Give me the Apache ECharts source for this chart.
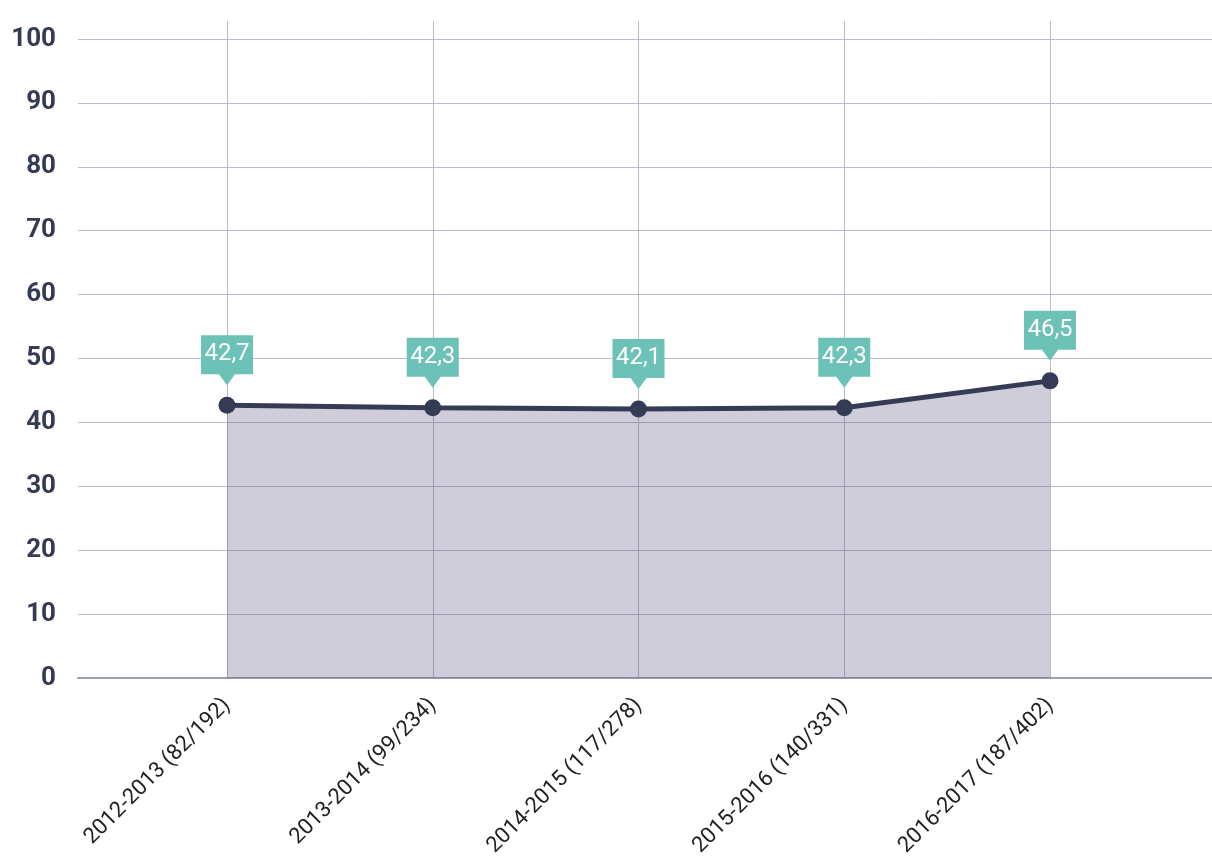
<!DOCTYPE html>
<html>
<head>
<meta charset="utf-8">
<script src="https://cdn.jsdelivr.net/npm/echarts@6/dist/echarts.min.js"></script>
<style>
  html, body { margin: 0; padding: 0; background: #fff; }
  #main { width: 1212px; height: 864px; }
</style>
</head>
<body>
<div id="main"></div>
<script>
// categories and values
var categories = ['2012-2013 (82/192)', '2013-2014 (99/234)', '2014-2015 (117/278)', '2015-2016 (140/331)', '2016-2017 (187/402)'];
var values = [42.7, 42.3, 42.1, 42.3, 46.5];
var yTicks = [0, 10, 20, 30, 40, 50, 60, 70, 80, 90, 100];

var navy = '#363b55';
var teal = '#6cc2b6';
var gridColor = '#babccd';

var myChart = echarts.init(document.getElementById('main'));

var option = {
    backgroundColor: '#fff',
    animation: false,
    grid: [
        { left: 78, right: 0, top: 39, bottom: 186 },      // horizontal lines + y labels
        { left: 227, right: 162, top: 21, bottom: 186 }    // the data, vertical lines
    ],
    xAxis: [{
        gridIndex: 0,
        type: 'category',
        data: [''],
        axisLine: { lineStyle: { color: '#9a9eb3', width: 2 } },
        axisTick: { show: false },
        axisLabel: { show: false },
        splitLine: { show: false }
    }, {
        gridIndex: 1,
        type: 'category',
        boundaryGap: false,
        data: categories,
        axisLine: { show: false },
        axisTick: { show: false },
        axisLabel: {
            rotate: 45,
            margin: 24,
            color: '#222',
            fontSize: 22,
            fontFamily: 'Roboto'
        },
        splitLine: { show: true, lineStyle: { color: gridColor, width: 1 } }
    }],
    yAxis: [{
        gridIndex: 0,
        type: 'value',
        min: yTicks[0],
        max: yTicks[yTicks.length - 1],
        interval: 10,
        axisLine: { show: false },
        axisTick: { show: false },
        axisLabel: {
            margin: 22,
            color: navy,
            fontSize: 26,
            fontWeight: 'bold',
            fontFamily: 'Roboto'
        },
        splitLine: { lineStyle: { color: gridColor, width: 1 } }
    }, {
        gridIndex: 1,
        type: 'value',
        min: 0,
        max: 100 * 657 / 639,   // same scale as the left axis, grid starts higher
        show: false,
        splitLine: { show: false }
    }],
    series: [{
        type: 'line',
        xAxisIndex: 1,
        yAxisIndex: 1,
        data: values,
        symbol: 'circle',
        symbolSize: 17,
        itemStyle: { color: navy },
        lineStyle: { color: navy, width: 5 },
        areaStyle: { color: '#3f3767', opacity: 0.25 },
        z: 3
    }, {
        // callout boxes
        type: 'scatter',
        xAxisIndex: 1,
        yAxisIndex: 1,
        data: values,
        symbol: 'path://M0,0 H52 V39 H34 L26,50 L18,39 H0 Z',
        symbolSize: [52, 50],
        symbolOffset: [0, -45],
        itemStyle: { color: teal, opacity: 1 },
        label: {
            show: true,
            position: 'inside',
            offset: [0, -6],
            color: '#fff',
            fontSize: 24,
            fontFamily: 'Roboto',
            formatter: function (p) {
                return String(p.value).replace('.', ',');
            }
        },
        z: 4
    }]
};

myChart.setOption(option);
</script>
</body>
</html>
